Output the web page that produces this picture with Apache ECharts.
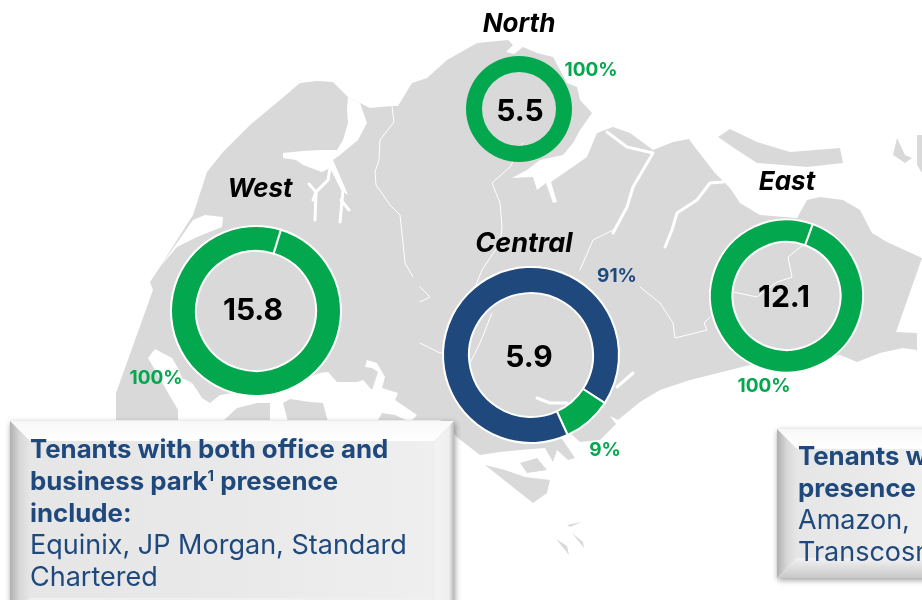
<!DOCTYPE html>
<html>
<head>
<meta charset="utf-8">
<title>Tenants by region</title>
<script src="https://cdn.jsdelivr.net/npm/echarts@6/dist/echarts.min.js"></script>
<style>
  html, body { margin: 0; padding: 0; background: #fff; overflow: hidden; }
  #chart { width: 922px; height: 600px; }
</style>
</head>
<body>
<div id="chart"></div>
<script>
// chart data
const regions = ['West', 'North', 'Central', 'East']
const regionTotals = ['15.8', '5.5', '5.9', '12.1']
const sliceNames = ['Other', 'Office']
const westShares = [0, 100]
const northShares = [0, 100]
const centralShares = [9, 91]
const eastShares = [0, 100]
const leftBoxBold = ['Tenants with both office and', 'business park', ' presence', 'include:']
const leftBoxPlain = ['Equinix, JP Morgan, Standard', 'Chartered']
const rightBoxBold = ['Tenants with', 'presence']
const rightBoxPlain = ['Amazon,', 'Transcosmos']

const GREEN = '#03A84E'
const BLUE = '#1F497D'
const LAND = '#D9D9D9'
const FONT = 'Inter'

// background map, decoration only
const mainland = [
  [116, 420], [116, 393], [153, 290], [150, 282], [160, 267], [177, 240], [193, 215], [207, 172], [223, 152],
  [250, 125], [280, 100], [300, 83], [317, 81], [333, 82], [348, 97], [360, 103], [370, 108], [392, 106],
  [398, 106], [412, 83], [427, 78], [447, 60], [477, 43], [508, 40], [513, 45], [506, 52], [514, 54], [523, 47],
  [537, 53], [553, 57], [567, 83], [577, 87], [580, 100], [592, 113], [580, 130], [573, 143], [563, 155],
  [540, 160], [527, 170], [512, 178], [533, 177], [537, 190], [546, 183], [553, 203], [557, 202], [551, 182],
  [587, 157], [597, 133], [613, 127], [630, 133], [653, 150], [673, 142], [689, 139], [697, 150], [715, 173],
  [730, 188], [740, 203], [760, 215], [797, 218], [807, 200], [820, 197], [843, 200], [860, 210], [872, 233],
  [887, 242], [922, 258], [896, 332], [917, 333], [917, 350], [903, 348], [880, 353], [857, 362], [840, 355],
  [800, 362], [750, 365], [690, 380], [660, 390], [640, 402], [618, 420], [610, 416], [616, 424], [600, 440],
  [580, 442], [570, 433], [560, 436], [575, 458], [568, 460], [557, 450], [553, 462], [545, 448], [520, 450],
  [500, 452], [480, 455], [458, 438], [440, 420], [116, 420]
]
const sea = [
  [148, 358], [155, 349], [172, 358], [178, 368], [182, 378], [192, 383], [197, 390], [202, 398], [210, 403],
  [220, 395], [240, 392], [270, 385], [307, 378], [320, 373], [328, 372], [337, 382], [357, 382], [363, 380],
  [372, 390], [378, 372], [372, 368], [365, 367], [367, 360], [377, 363], [385, 377], [382, 388], [398, 393],
  [395, 400], [417, 415], [410, 422], [395, 415], [382, 413], [377, 422], [328, 422], [323, 403], [310, 402],
  [290, 399], [283, 403], [288, 422], [270, 422], [270, 403], [257, 403], [237, 408], [222, 422], [178, 422],
  [178, 410]
]
const lagoon = [[160, 267], [177, 247], [197, 237], [222, 227], [223, 217], [205, 215], [193, 220]]
const islands = [
  [[718, 137], [730, 129], [757, 142], [790, 152], [840, 148], [843, 163], [807, 167], [783, 165], [757, 163], [737, 150]],
  [[897, 138], [905, 155], [912, 158], [905, 163], [893, 155]],
  [[917, 135], [922, 135], [922, 173], [917, 165]],
  [[485, 465], [505, 470], [525, 477], [550, 480], [547, 493], [533, 503]],
  [[520, 463], [537, 458], [547, 470], [527, 473]],
  [[556, 539], [567, 546], [569, 555]],
  [[572, 533], [583, 542], [584, 548]],
  [[567, 525], [582, 522], [570, 527]]
]
const kranji = [
  [348, 97], [360, 103], [367, 123], [358, 140], [340, 155], [333, 160], [343, 183], [348, 195], [341, 190],
  [330, 168], [322, 172], [303, 165], [296, 160], [283, 158], [283, 153], [303, 151], [320, 150], [337, 150],
  [343, 140], [348, 123], [347, 110]
]
const riverChannels = [
  [[330, 168], [328, 180], [316, 192], [313, 200]],
  [[316, 192], [309, 184]],
  [[316, 192], [315, 220]],
  [[343, 190], [340, 222]],
  [[341, 200], [349, 210]],
  [[607, 132], [627, 147], [653, 153], [633, 187], [627, 207], [613, 233]],
  [[723, 182], [710, 183], [697, 200], [677, 213], [672, 230], [665, 247]],
  [[633, 373], [617, 387]],
  [[537, 398], [550, 403], [567, 403]]
]
const regionLines = [
  [[392, 106], [394, 122], [380, 140], [379, 160], [375, 172], [376, 185], [390, 205], [400, 215], [403, 243], [405, 263], [413, 277]],
  [[523, 143], [510, 167], [492, 183], [500, 203], [502, 227], [500, 243], [482, 270], [470, 300]],
  [[492, 313], [480, 343], [470, 363]],
  [[420, 343], [440, 353], [448, 352]],
  [[420, 287], [430, 297], [420, 302]],
  [[613, 230], [593, 240], [580, 270]],
  [[640, 287], [660, 303], [673, 323], [675, 338], [707, 330], [704, 323], [710, 317]],
  [[803, 245], [788, 257], [792, 277], [777, 282], [757, 297], [733, 292]]
]

function poly (points, fill, z) {
  return { type: 'polygon', shape: { points: points }, style: { fill: fill }, silent: true, z: z }
}

function line (points, width) {
  return {
    type: 'polyline',
    shape: { points: points },
    style: { stroke: '#fff', lineWidth: width, fill: null, lineJoin: 'round', lineCap: 'round' },
    silent: true,
    z: 1
  }
}

function hGrad (stops) {
  return new echarts.graphic.LinearGradient(0, 0, 1, 0, stops.map((c, i) => ({ offset: i / (stops.length - 1), color: c })))
}

function vGrad (stops) {
  return new echarts.graphic.LinearGradient(0, 0, 0, 1, stops.map((c, i) => ({ offset: i / (stops.length - 1), color: c })))
}

// bevelled text box
function bevelBox (x, y, w, h, b) {
  const r = x + w
  const d = y + h
  return [
    {
      type: 'rect',
      shape: { x: x, y: y, width: w, height: h },
      style: { fill: '#eee', shadowBlur: 6, shadowColor: 'rgba(0,0,0,0.4)', shadowOffsetX: 1, shadowOffsetY: 2 },
      silent: true,
      z: 5
    },
    {
      type: 'rect',
      shape: { x: x + b, y: y + b, width: w - 2 * b, height: h - 2 * b },
      style: { fill: hGrad(['#e6e6e6', '#e9e9e9', '#efefef']) },
      silent: true,
      z: 6
    },
    poly([[x, y], [r, y], [r - b, y + b], [x + b, y + b]], vGrad(['#f8f8f8', '#ffffff']), 6),
    poly([[x, y], [x + b, y + b], [x + b, d - b], [x, d]], hGrad(['#b0b0b0', '#d8d8d8', '#e6e6e6']), 6),
    poly([[r, y], [r, d], [r - b, d - b], [r - b, y + b]], hGrad(['#f2f2f2', '#f2f2f2', '#f0f0f0', '#efefef', '#b8b8b8']), 6),
    poly([[x, d], [x + b, d - b], [r - b, d - b], [r, d]], vGrad(['#f2f2f2', '#c8c8c8']), 6)
  ]
}

function label (text, x, y, size, color, weight, italic) {
  return {
    type: 'text',
    x: x,
    y: y,
    style: {
      text: text,
      fill: color,
      font: (italic ? 'italic ' : '') + weight + ' ' + size + 'px ' + FONT,
      align: 'center',
      verticalAlign: 'middle'
    },
    silent: true,
    z: 10
  }
}

function toPie (name, shares, center, radius, start, border) {
  return {
    type: 'pie',
    name: name,
    silent: true,
    clockwise: true,
    center: center,
    radius: radius,
    startAngle: start,
    // keeps the 0 slice visible as the white tick on the bordered 100% rings
    minAngle: border > 0 ? 0.1 : 0,
    label: { show: false },
    labelLine: { show: false },
    itemStyle: { borderColor: '#fff', borderWidth: border },
    data: shares.map((v, i) => ({
      name: sliceNames[i],
      value: v,
      itemStyle: { color: name === 'Central' && i === 1 ? BLUE : GREEN }
    }))
  }
}

function textRow (parts, x, y) {
  return {
    type: 'text',
    x: x,
    y: y,
    style: {
      text: parts,
      fill: BLUE,
      font: '700 25.8px ' + FONT,
      verticalAlign: 'middle',
      rich: {
        b: { font: '700 25.8px ' + FONT, fill: BLUE },
        s: { font: '700 15px ' + FONT, fill: BLUE, verticalAlign: 'top', padding: [0, 0, 8, 0] }
      }
    },
    silent: true,
    z: 10
  }
}

function plainRow (text, x, y) {
  return {
    type: 'text',
    x: x,
    y: y,
    style: { text: text, fill: BLUE, font: '400 27px ' + FONT, verticalAlign: 'middle' },
    silent: true,
    z: 10
  }
}

const graphics = [
  poly(mainland, LAND, 0),
  poly(sea, '#fff', 1),
  poly(lagoon, '#fff', 1),
  poly(kranji, '#fff', 1)
]
islands.forEach(p => graphics.push(poly(p, LAND, 2)))
riverChannels.forEach(p => graphics.push(line(p, 3)))
regionLines.forEach(p => graphics.push(line(p, 1)))
graphics.push(...bevelBox(10, 421, 444, 197, 20))
graphics.push(...bevelBox(777, 429, 170, 149, 20))

graphics.push(
  label(regions[0], 260, 189, 26, '#000', 700, true),
  label(regions[1], 519, 24, 26, '#000', 700, true),
  label(regions[2], 524, 244, 27, '#000', 700, true),
  label(regions[3], 787, 182, 26, '#000', 700, true),
  label(regionTotals[0], 253, 311, 30, '#000', 700),
  label(regionTotals[1], 520, 112, 30, '#000', 700),
  label(regionTotals[2], 529, 358, 30, '#000', 700),
  label(regionTotals[3], 784, 298, 30, '#000', 700),
  label(westShares[1] + '%', 156, 378, 19, GREEN, 700),
  label(northShares[1] + '%', 591, 70, 19, GREEN, 700),
  label(centralShares[1] + '%', 617, 276, 19, BLUE, 700),
  label(centralShares[0] + '%', 605, 450, 19, GREEN, 700),
  label(eastShares[1] + '%', 764, 386, 19, GREEN, 700),
  textRow('{b|' + leftBoxBold[0] + '}', 30, 450),
  textRow('{b|' + leftBoxBold[1] + '}{s|1}{b|' + leftBoxBold[2] + '}', 30, 482),
  textRow('{b|' + leftBoxBold[3] + '}', 30, 514),
  plainRow(leftBoxPlain[0], 30, 546),
  plainRow(leftBoxPlain[1], 30, 578),
  textRow('{b|' + rightBoxBold[0] + '}', 798, 457),
  textRow('{b|' + rightBoxBold[1] + '}', 798, 489),
  plainRow(rightBoxPlain[0], 798, 521),
  plainRow(rightBoxPlain[1], 798, 553)
)

const chart = echarts.init(document.getElementById('chart'), null, { renderer: 'canvas' })
chart.setOption({
  animation: false,
  backgroundColor: '#fff',
  graphic: { elements: graphics },
  series: [
    toPie(regions[0], westShares, [256, 311], [60, 85], 73, 2),
    toPie(regions[1], [northShares[1]], [519, 109], [37, 53], 90, 0),
    toPie(regions[2], centralShares, [531, 355], [62, 88], -33, 2),
    toPie(regions[3], eastShares, [786.5, 296], [54, 76.5], 70, 2)
  ]
})
</script>
</body>
</html>
